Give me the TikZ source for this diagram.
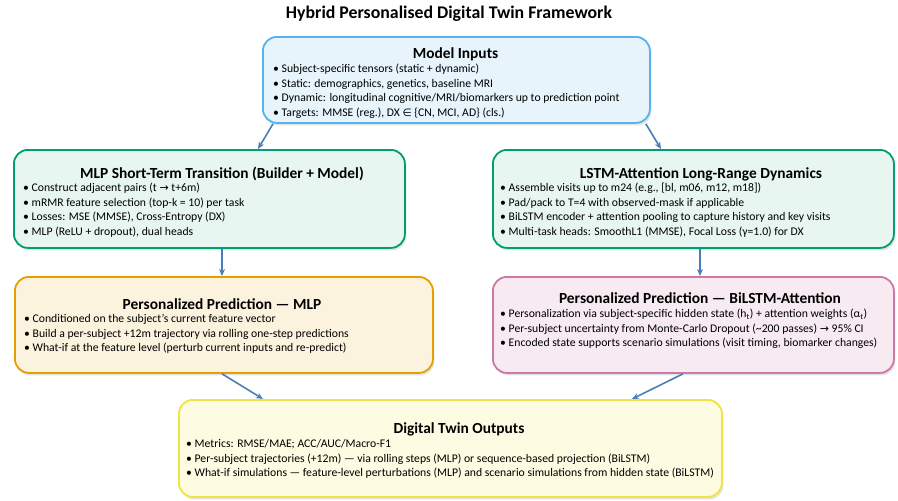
\documentclass[tikz,border=0pt]{standalone}
\usepackage{fontspec}
\setmainfont{Carlito}
\newfontfamily\symfont{DejaVu Sans}
\usetikzlibrary{arrows.meta,shadows}
\definecolor{skyb}{HTML}{56B4E9}
\definecolor{bgreen}{HTML}{009E73}
\definecolor{orng}{HTML}{E69F00}
\definecolor{rpurp}{HTML}{CC79A7}
\definecolor{yllw}{HTML}{F0E442}
\definecolor{arrowblue}{HTML}{4A7EBB}
\newcommand{\sarr}{{\symfont\fontsize{11}{10}\selectfont →}}
\newcommand{\selem}{{\symfont\fontsize{10.5}{10}\selectfont ∈}}
\begin{document}
\begin{tikzpicture}[x=1pt,y=-1pt,
  box/.style={draw, line width=1.8pt, rounded corners=14pt, anchor=north west, inner sep=0pt,
    drop shadow={opacity=0.22, shadow xshift=1.5pt, shadow yshift=-2.5pt}},
  ttl/.style={font=\bfseries\fontsize{15.4}{18}\selectfont, anchor=base, inner sep=0pt},
  bul/.style={font=\fontsize{11.7}{13}\selectfont, anchor=base west, inner sep=0pt},
  conn/.style={draw=arrowblue, line width=1.6pt, -{Stealth[length=7pt,width=6pt]}}
]
\useasboundingbox (0,0) rectangle (898,501);
\fill[white] (0,0) rectangle (898,501);

\node[font=\bfseries\fontsize{17.8}{20}\selectfont, anchor=base, inner sep=0pt] (title) at (449,18) {Hybrid Personalised Digital Twin Framework};

% boxes
\node[box, draw=skyb, fill=skyb!14, minimum width=387pt, minimum height=86pt] (inputs) at (262,36) {};
\node[box, draw=bgreen, fill=bgreen!9, minimum width=391pt, minimum height=98pt] (mlp) at (13,149) {};
\node[box, draw=bgreen, fill=bgreen!9, minimum width=401pt, minimum height=98pt] (lstm) at (492,149) {};
\node[box, draw=orng, fill=orng!13, minimum width=418pt, minimum height=96pt] (predmlp) at (14,276) {};
\node[box, draw=rpurp, fill=rpurp!16, minimum width=401pt, minimum height=96pt] (predlstm) at (492,276) {};
\node[box, draw=yllw, fill=yllw!16, minimum width=543pt, minimum height=97pt] (outputs) at (178,399) {};

% Model Inputs
\node[ttl] (t1) at (455.5,58) {Model Inputs};
\node[bul] (t1a) at (273,72.5) {• Subject-specific tensors (static + dynamic)};
\node[bul] (t1b) at (273,87.2) {• Static: demographics, genetics, baseline MRI};
\node[bul] (t1c) at (273,101.9) {• Dynamic: longitudinal cognitive/MRI/biomarkers up to prediction point};
\node[bul] (t1d) at (273,116.6) {• Targets: MMSE (reg.), DX \selem\ \{CN, MCI, AD\} (cls.)};

% MLP short-term
\node[ttl] (t2) at (222,178) {MLP Short-Term Transition (Builder + Model)};
\node[bul] (t2a) at (23,191.5) {• Construct adjacent pairs (t \sarr\ t+6m)};
\node[bul] (t2b) at (23,206.2) {• mRMR feature selection (top-k = 10) per task};
\node[bul] (t2c) at (23,220.9) {• Losses: MSE (MMSE), Cross-Entropy (DX)};
\node[bul] (t2d) at (23,235.6) {• MLP (ReLU + dropout), dual heads};

% LSTM long-range
\node[ttl] (t3) at (701,178) {LSTM-Attention Long-Range Dynamics};
\node[bul] (t3a) at (500,191.5) {• Assemble visits up to m24 (e.g., [bl, m06, m12, m18])};
\node[bul] (t3b) at (500,206.2) {• Pad/pack to T=4 with observed-mask if applicable};
\node[bul] (t3c) at (500,220.9) {• BiLSTM encoder + attention pooling to capture history and key visits};
\node[bul] (t3d) at (500,235.6) {• Multi-task heads: SmoothL1 (MMSE), Focal Loss (γ=1.0) for DX};

% Personalized MLP
\node[ttl] (t4) at (222,309) {Personalized Prediction — MLP};
\node[bul] (t4a) at (24,322.5) {• Conditioned on the subject’s current feature vector};
\node[bul] (t4b) at (24,337.2) {• Build a per-subject +12m trajectory via rolling one-step predictions};
\node[bul] (t4c) at (24,351.9) {• What-if at the feature level (perturb current inputs and re-predict)};

% Personalized BiLSTM
\node[ttl] (t5) at (700,303.5) {Personalized Prediction — BiLSTM-Attention};
\node[bul] (t5a) at (500,317.5) {• Personalization via subject-specific hidden state (h\textsubscript{t}) + attention weights (α\textsubscript{t})};
\node[bul] (t5b) at (500,332.2) {• Per-subject uncertainty from Monte-Carlo Dropout (\textasciitilde200 passes) \sarr\ 95\% CI};
\node[bul] (t5c) at (500,346.9) {• Encoded state supports scenario simulations (visit timing, biomarker changes)};

% Outputs
\node[ttl] (t6) at (459,433.5) {Digital Twin Outputs};
\node[bul] (t6a) at (186,447.5) {• Metrics: RMSE/MAE; ACC/AUC/Macro-F1};
\node[bul] (t6b) at (186,462.2) {• Per-subject trajectories (+12m) — via rolling steps (MLP) or sequence-based projection (BiLSTM)};
\node[bul] (t6c) at (186,476.9) {• What-if simulations — feature-level perturbations (MLP) and scenario simulations from hidden state (BiLSTM)};

% connectors
\draw[conn] ([xshift=11pt]inputs.south west) -- ([xshift=245pt]mlp.north west);
\draw[conn] ([xshift=-5pt]inputs.south east) -- ([xshift=169pt]lstm.north west);
\draw[conn] ([xshift=209pt]mlp.south west) -- ([xshift=208pt]predmlp.north west);
\draw[conn] ([xshift=208pt]lstm.south west) -- ([xshift=208pt]predlstm.north west);
\draw[conn] ([xshift=208pt]predmlp.south west) -- ([xshift=85pt]outputs.north west);
\draw[conn] ([xshift=191pt]predlstm.south west) -- ([xshift=454pt]outputs.north west);
\end{tikzpicture}
\end{document}
